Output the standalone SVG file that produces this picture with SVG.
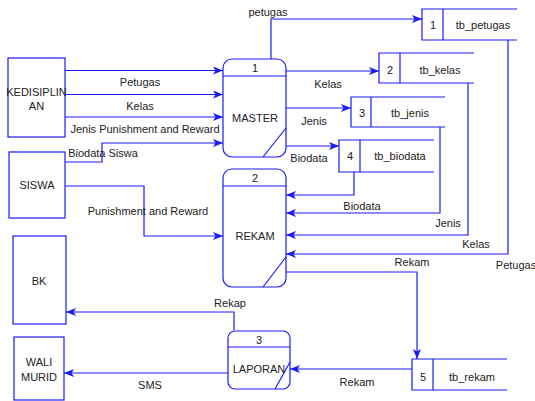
<svg xmlns="http://www.w3.org/2000/svg" width="535" height="401" viewBox="0 0 535 401">
<defs>
<style>
text{font-family:"Liberation Sans",Arial,sans-serif;font-size:11px;fill:#222;text-anchor:middle;dominant-baseline:central}
.b{fill:#fff;stroke:#1a1aff;stroke-width:1.2}
.l{fill:none;stroke:#1a1aff;stroke-width:1.2}
.c{fill:none;stroke:#1a1aff;stroke-width:1.2;marker-end:url(#a)}
</style>
<marker id="a" viewBox="0 0 10 8" refX="10" refY="4" markerWidth="10" markerHeight="8" markerUnits="userSpaceOnUse" orient="auto">
<path d="M0,0 L10,4 L0,8 L2.5,4 Z" fill="#1a1aff"/>
</marker>
</defs>
<rect width="535" height="401" fill="#fff"/>
<g id="connectors">
<path class="c" d="M65,70.5 H223"/>
<path class="c" d="M65,94.5 H223"/>
<path class="c" d="M65,117 H223"/>
<path class="c" d="M65,162 H102 V143 H223"/>
<path class="c" d="M65,186 H144 V236 H223"/>
<path class="c" d="M271,59 V19 H422"/>
<path class="c" d="M286,71 H379"/>
<path class="c" d="M286,108 H351"/>
<path class="c" d="M286,146 H339"/>
<path class="c" d="M354,172 V195 H286"/>
<path class="c" d="M440,127 V213 H286"/>
<path class="c" d="M468,83 V235 H286"/>
<path class="c" d="M508,40 V254 H286"/>
<path class="c" d="M286,272 H417 V359"/>
<path class="c" d="M412,369 H290"/>
<path class="c" d="M234,330 V312 H66"/>
<path class="c" d="M228,373 H64"/>
<text x="268" y="12">petugas</text>
<text x="140" y="82">Petugas</text>
<text x="140" y="106">Kelas</text>
<text x="145" y="129">Jenis Punishment and Reward</text>
<text x="103" y="153">Biodata Siswa</text>
<text x="148" y="211">Punishment and Reward</text>
<text x="328" y="84">Kelas</text>
<text x="314" y="121">Jenis</text>
<text x="309" y="158">Biodata</text>
<text x="362" y="206">Biodata</text>
<text x="448" y="223">Jenis</text>
<text x="476" y="244">Kelas</text>
<text x="516" y="265">Petugas</text>
<text x="412" y="262">Rekam</text>
<text x="357" y="382">Rekam</text>
<text x="230" y="303">Rekap</text>
<text x="150" y="385">SMS</text>
</g>
<g id="kedisiplinan">
<rect class="b" x="8" y="58" width="57" height="79"/>
<text x="36.5" y="92">KEDISIPLIN</text>
<text x="36.5" y="106">AN</text>
</g>
<g id="siswa">
<rect class="b" x="9" y="152" width="56" height="66"/>
<text x="37" y="185">SISWA</text>
</g>
<g id="bk">
<rect class="b" x="13" y="236" width="53" height="88"/>
<text x="39" y="281">BK</text>
</g>
<g id="wali">
<rect class="b" x="14" y="337" width="50" height="63"/>
<text x="39" y="362">WALI</text>
<text x="39" y="377">MURID</text>
</g>
<g id="p1">
<rect class="b" x="223" y="59" width="63" height="98" rx="9"/>
<path class="l" d="M223,76 H286 M263,157 L286,128"/>
<text x="255" y="68">1</text>
<text x="255" y="118">MASTER</text>
</g>
<g id="p2">
<rect class="b" x="223" y="169" width="63" height="118" rx="9"/>
<path class="l" d="M223,186 H286 M263,287 L286,257"/>
<text x="255" y="178">2</text>
<text x="255" y="236">REKAM</text>
</g>
<g id="p3">
<rect class="b" x="228" y="331" width="62" height="58" rx="7"/>
<path class="l" d="M228,347 H290 M275,389 L290,362"/>
<text x="259" y="340">3</text>
<text x="259" y="369">LAPORAN</text>
</g>
<g id="s1">
<path class="l" d="M517,9 H422 V40 H517 M443,9 V40"/>
<text x="433" y="25">1</text>
<text x="483" y="25">tb_petugas</text>
</g>
<g id="s2">
<path class="l" d="M474,53 H379 V83 H474 M400,53 V83"/>
<text x="390" y="70">2</text>
<text x="440" y="70">tb_kelas</text>
</g>
<g id="s3">
<path class="l" d="M445,97 H351 V127 H445 M371,97 V127"/>
<text x="362" y="113">3</text>
<text x="410" y="113">tb_jenis</text>
</g>
<g id="s4">
<path class="l" d="M434,140 H339 V172 H434 M360,140 V172"/>
<text x="350" y="156">4</text>
<text x="400" y="156">tb_biodata</text>
</g>
<g id="s5">
<path class="l" d="M507,359 H412 V390 H507 M433,359 V390"/>
<text x="423" y="377">5</text>
<text x="472" y="377">tb_rekam</text>
</g>
</svg>
